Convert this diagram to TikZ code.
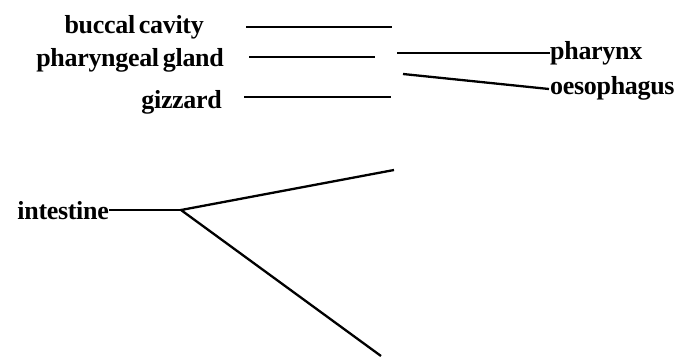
\documentclass[tikz,border=0pt]{standalone}
\usepackage{fontspec}
\setmainfont{Liberation Serif}[LetterSpace=-1.2,WordSpace=0.6]
\begin{document}
\begin{tikzpicture}[x=1pt,y=-1pt,
  lbl/.style={font=\fontsize{26}{28}\selectfont\bfseries, inner sep=0pt},
  ln/.style={line width=2.3pt}]
\useasboundingbox (0,0) rectangle (679,356);
% labels
\node[lbl, anchor=mid east] (bc) at (204,31) {buccal cavity};
\node[lbl, anchor=mid east] (pg) at (224,64) {pharyngeal gland};
\node[lbl, anchor=mid east] (gz) at (222,106) {gizzard};
\node[lbl, anchor=mid west] (ph) at (550,57) {pharynx};
\node[lbl, anchor=mid west] (oe) at (550,92) {oesophagus};
\node[lbl, anchor=mid east] (in) at (109,217) {intestine};
% coordinates
\coordinate (bc1) at (246,27); \coordinate (bc2) at (392,27);
\coordinate (pg1) at (249,57); \coordinate (pg2) at (375,57);
\coordinate (gz1) at (244,97); \coordinate (gz2) at (391,97);
\coordinate (ph1) at (397,53);
\coordinate (oe1) at (403,74);
\coordinate (j) at (181,210);
\coordinate (up) at (394,170);
\coordinate (dn) at (381,356);
% lines
\draw[ln] (bc1) -- (bc2);
\draw[ln] (pg1) -- (pg2);
\draw[ln] (gz1) -- (gz2);
\draw[ln] (ph1) -- (ph.west|-ph1);
\draw[ln] (oe1) -- (549,89);
\draw[ln] (in.east|-j) -- (j);
\draw[ln] (up) -- (j) -- (dn);
\end{tikzpicture}
\end{document}
